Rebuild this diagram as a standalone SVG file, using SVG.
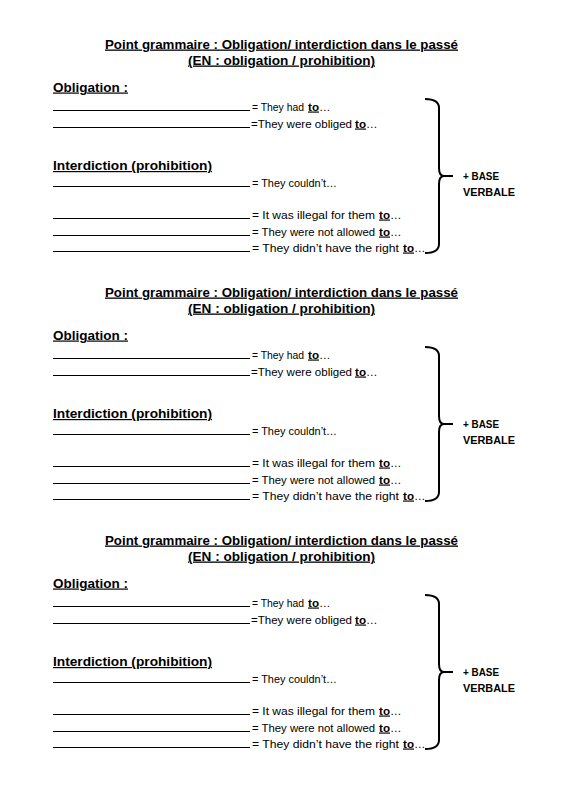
<svg xmlns="http://www.w3.org/2000/svg" width="566" height="800" viewBox="0 0 566 800">
<style>
.t{font-family:"Liberation Sans",Arial,sans-serif;font-weight:bold;font-size:13px;fill:#000;text-decoration:underline}
.h{font-family:"Liberation Sans",Arial,sans-serif;font-weight:bold;font-size:12px;fill:#000;text-decoration:underline}
.b{font-family:"Liberation Sans",Arial,sans-serif;font-size:11.5px;fill:#000}
.s{font-size:10.5px}
.k{font-family:"Liberation Sans",Arial,sans-serif;font-size:11.5px;fill:#000;font-weight:bold;text-decoration:underline}
.v{font-family:"Liberation Sans",Arial,sans-serif;font-weight:bold;font-size:10.5px;fill:#000}
.ln{stroke:#000;stroke-width:1}
.br{fill:none;stroke:#000;stroke-width:2}
</style>
<rect width="566" height="800" fill="#fff"/>
<g id="block1">
<g id="title1"><text class="t" x="105" y="48.5" textLength="353" lengthAdjust="spacingAndGlyphs">Point grammaire : Obligation/ interdiction dans le passé</text>
<text class="t" x="188" y="64.5" textLength="187" lengthAdjust="spacingAndGlyphs">(EN : obligation / prohibition)</text></g>
<g id="oblig1"><text class="h" x="53" y="91.5" textLength="75" lengthAdjust="spacingAndGlyphs">Obligation :</text>
<line class="ln" x1="53" y1="110.5" x2="250" y2="110.5"/>
<text class="b s" x="252" y="110.5" textLength="52" lengthAdjust="spacingAndGlyphs">= They had</text><text class="k" x="308" y="110.5" textLength="11" lengthAdjust="spacingAndGlyphs">to</text><text class="b" x="319" y="110.5">…</text>
<line class="ln" x1="53" y1="127.5" x2="250" y2="127.5"/>
<text class="b" x="251" y="127.5" textLength="101" lengthAdjust="spacingAndGlyphs">=They were obliged</text><text class="k" x="355" y="127.5" textLength="11" lengthAdjust="spacingAndGlyphs">to</text><text class="b" x="366" y="127.5">…</text></g>
<g id="inter1"><text class="h" x="53" y="170" textLength="159" lengthAdjust="spacingAndGlyphs">Interdiction (prohibition)</text>
<line class="ln" x1="53" y1="186.5" x2="250" y2="186.5"/>
<text class="b" x="252" y="186.5" textLength="85" lengthAdjust="spacingAndGlyphs">= They couldn’t…</text>
<line class="ln" x1="53" y1="218.5" x2="250" y2="218.5"/>
<text class="b" x="252" y="218.5" textLength="123" lengthAdjust="spacingAndGlyphs">= It was illegal for them</text><text class="k" x="379" y="218.5" textLength="11" lengthAdjust="spacingAndGlyphs">to</text><text class="b" x="390" y="218.5">…</text>
<line class="ln" x1="53" y1="235.5" x2="250" y2="235.5"/>
<text class="b" x="252" y="235.5" textLength="123" lengthAdjust="spacingAndGlyphs">= They were not allowed</text><text class="k" x="379" y="235.5" textLength="11" lengthAdjust="spacingAndGlyphs">to</text><text class="b" x="390" y="235.5">…</text>
<line class="ln" x1="53" y1="251.5" x2="250" y2="251.5"/>
<text class="b" x="252" y="251.5" textLength="147" lengthAdjust="spacingAndGlyphs">= They didn’t have the right</text><text class="k" x="403" y="251.5" textLength="11" lengthAdjust="spacingAndGlyphs">to</text><text class="b" x="414" y="251.5">…</text></g>
<g id="brace1"><path class="br" d="M425,99 Q439,99 439,108 L439,168 Q439,176 444,176 L453,176 M444,176 Q439,176 439,184 L439,244 Q439,253 425,253"/>
<text class="v" x="463" y="180" textLength="36" lengthAdjust="spacingAndGlyphs">+ BASE</text>
<text class="v" x="463" y="196" textLength="52" lengthAdjust="spacingAndGlyphs">VERBALE</text></g>
</g>
<g id="block2" transform="translate(0,248)">
<g id="title2"><text class="t" x="105" y="48.5" textLength="353" lengthAdjust="spacingAndGlyphs">Point grammaire : Obligation/ interdiction dans le passé</text>
<text class="t" x="188" y="64.5" textLength="187" lengthAdjust="spacingAndGlyphs">(EN : obligation / prohibition)</text></g>
<g id="oblig2"><text class="h" x="53" y="91.5" textLength="75" lengthAdjust="spacingAndGlyphs">Obligation :</text>
<line class="ln" x1="53" y1="110.5" x2="250" y2="110.5"/>
<text class="b s" x="252" y="110.5" textLength="52" lengthAdjust="spacingAndGlyphs">= They had</text><text class="k" x="308" y="110.5" textLength="11" lengthAdjust="spacingAndGlyphs">to</text><text class="b" x="319" y="110.5">…</text>
<line class="ln" x1="53" y1="127.5" x2="250" y2="127.5"/>
<text class="b" x="251" y="127.5" textLength="101" lengthAdjust="spacingAndGlyphs">=They were obliged</text><text class="k" x="355" y="127.5" textLength="11" lengthAdjust="spacingAndGlyphs">to</text><text class="b" x="366" y="127.5">…</text></g>
<g id="inter2"><text class="h" x="53" y="170" textLength="159" lengthAdjust="spacingAndGlyphs">Interdiction (prohibition)</text>
<line class="ln" x1="53" y1="186.5" x2="250" y2="186.5"/>
<text class="b" x="252" y="186.5" textLength="85" lengthAdjust="spacingAndGlyphs">= They couldn’t…</text>
<line class="ln" x1="53" y1="218.5" x2="250" y2="218.5"/>
<text class="b" x="252" y="218.5" textLength="123" lengthAdjust="spacingAndGlyphs">= It was illegal for them</text><text class="k" x="379" y="218.5" textLength="11" lengthAdjust="spacingAndGlyphs">to</text><text class="b" x="390" y="218.5">…</text>
<line class="ln" x1="53" y1="235.5" x2="250" y2="235.5"/>
<text class="b" x="252" y="235.5" textLength="123" lengthAdjust="spacingAndGlyphs">= They were not allowed</text><text class="k" x="379" y="235.5" textLength="11" lengthAdjust="spacingAndGlyphs">to</text><text class="b" x="390" y="235.5">…</text>
<line class="ln" x1="53" y1="251.5" x2="250" y2="251.5"/>
<text class="b" x="252" y="251.5" textLength="147" lengthAdjust="spacingAndGlyphs">= They didn’t have the right</text><text class="k" x="403" y="251.5" textLength="11" lengthAdjust="spacingAndGlyphs">to</text><text class="b" x="414" y="251.5">…</text></g>
<g id="brace2"><path class="br" d="M425,99 Q439,99 439,108 L439,168 Q439,176 444,176 L453,176 M444,176 Q439,176 439,184 L439,244 Q439,253 425,253"/>
<text class="v" x="463" y="180" textLength="36" lengthAdjust="spacingAndGlyphs">+ BASE</text>
<text class="v" x="463" y="196" textLength="52" lengthAdjust="spacingAndGlyphs">VERBALE</text></g>
</g>
<g id="block3" transform="translate(0,496)">
<g id="title3"><text class="t" x="105" y="48.5" textLength="353" lengthAdjust="spacingAndGlyphs">Point grammaire : Obligation/ interdiction dans le passé</text>
<text class="t" x="188" y="64.5" textLength="187" lengthAdjust="spacingAndGlyphs">(EN : obligation / prohibition)</text></g>
<g id="oblig3"><text class="h" x="53" y="91.5" textLength="75" lengthAdjust="spacingAndGlyphs">Obligation :</text>
<line class="ln" x1="53" y1="110.5" x2="250" y2="110.5"/>
<text class="b s" x="252" y="110.5" textLength="52" lengthAdjust="spacingAndGlyphs">= They had</text><text class="k" x="308" y="110.5" textLength="11" lengthAdjust="spacingAndGlyphs">to</text><text class="b" x="319" y="110.5">…</text>
<line class="ln" x1="53" y1="127.5" x2="250" y2="127.5"/>
<text class="b" x="251" y="127.5" textLength="101" lengthAdjust="spacingAndGlyphs">=They were obliged</text><text class="k" x="355" y="127.5" textLength="11" lengthAdjust="spacingAndGlyphs">to</text><text class="b" x="366" y="127.5">…</text></g>
<g id="inter3"><text class="h" x="53" y="170" textLength="159" lengthAdjust="spacingAndGlyphs">Interdiction (prohibition)</text>
<line class="ln" x1="53" y1="186.5" x2="250" y2="186.5"/>
<text class="b" x="252" y="186.5" textLength="85" lengthAdjust="spacingAndGlyphs">= They couldn’t…</text>
<line class="ln" x1="53" y1="218.5" x2="250" y2="218.5"/>
<text class="b" x="252" y="218.5" textLength="123" lengthAdjust="spacingAndGlyphs">= It was illegal for them</text><text class="k" x="379" y="218.5" textLength="11" lengthAdjust="spacingAndGlyphs">to</text><text class="b" x="390" y="218.5">…</text>
<line class="ln" x1="53" y1="235.5" x2="250" y2="235.5"/>
<text class="b" x="252" y="235.5" textLength="123" lengthAdjust="spacingAndGlyphs">= They were not allowed</text><text class="k" x="379" y="235.5" textLength="11" lengthAdjust="spacingAndGlyphs">to</text><text class="b" x="390" y="235.5">…</text>
<line class="ln" x1="53" y1="251.5" x2="250" y2="251.5"/>
<text class="b" x="252" y="251.5" textLength="147" lengthAdjust="spacingAndGlyphs">= They didn’t have the right</text><text class="k" x="403" y="251.5" textLength="11" lengthAdjust="spacingAndGlyphs">to</text><text class="b" x="414" y="251.5">…</text></g>
<g id="brace3"><path class="br" d="M425,99 Q439,99 439,108 L439,168 Q439,176 444,176 L453,176 M444,176 Q439,176 439,184 L439,244 Q439,253 425,253"/>
<text class="v" x="463" y="180" textLength="36" lengthAdjust="spacingAndGlyphs">+ BASE</text>
<text class="v" x="463" y="196" textLength="52" lengthAdjust="spacingAndGlyphs">VERBALE</text></g>
</g>
</svg>
